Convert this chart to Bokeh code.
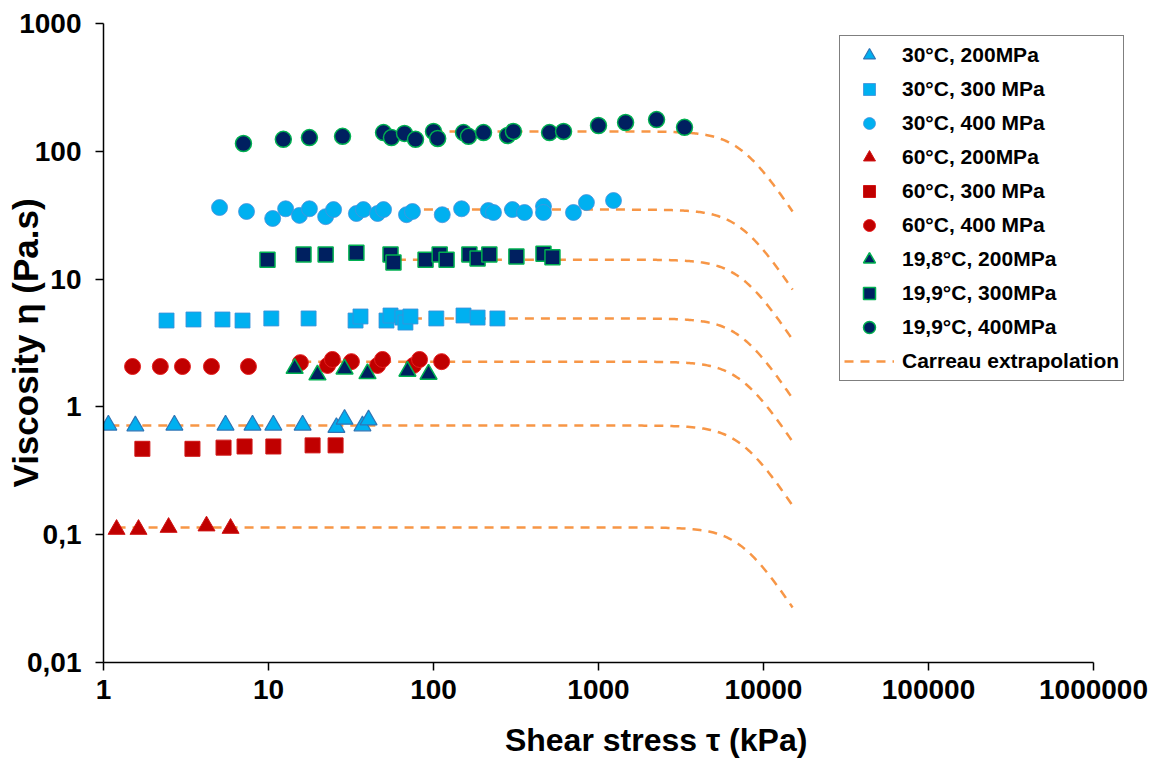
import numpy as np
from bokeh.plotting import figure
from bokeh.models import FixedTicker, Legend, LegendItem
from bokeh.embed import file_html
from bokeh.resources import INLINE

# ---------------- data ----------------
x_30_200 = [1.07, 1.56, 2.69, 5.49, 8.0, 10.7, 16.1, 25.8, 28.9, 37.1, 40.4]
y_30_200 = [0.72, 0.71, 0.72, 0.72, 0.72, 0.72, 0.72, 0.69, 0.80, 0.71, 0.79]

x_30_300 = [2.41, 3.51, 5.26, 6.96, 10.4, 17.5, 33.7, 36.1, 51.9, 54.9, 64.8,
            67.6, 72.5, 104, 152, 185, 244]
y_30_300 = [4.74, 4.83, 4.83, 4.74, 4.92, 4.92, 4.74, 5.10, 4.74, 5.19, 5.0,
            4.57, 5.10, 4.92, 5.19, 5.0, 4.92]

x_30_400 = [5.05, 7.36, 10.6, 12.7, 15.4, 17.7, 22.2, 24.8, 34.1, 37.6, 45.8,
            49.8, 68.6, 74.6, 113, 148, 215, 231, 301, 356, 464, 464, 705,
            845, 1233]
y_30_400 = [36.3, 33.8, 29.8, 35.5, 31.5, 35.5, 30.8, 35.0, 32.6, 35.0, 32.6,
            35.0, 31.9, 33.8, 31.9, 35.5, 34.4, 33.2, 35.0, 33.2, 37.1, 33.2,
            33.2, 39.7, 41.2]

x_60_200 = [1.20, 1.63, 2.48, 4.21, 5.89]
y_60_200 = [0.110, 0.110, 0.114, 0.117, 0.112]

x_60_300 = [1.72, 3.46, 5.34, 7.16, 10.7, 18.5, 25.5]
y_60_300 = [0.47, 0.47, 0.48, 0.49, 0.49, 0.50, 0.50]

x_60_400 = [1.50, 2.21, 3.01, 4.51, 7.56, 15.6, 22.8, 24.4, 31.8, 45.8, 49.1,
            75.6, 82.3, 112]
y_60_400 = [2.07, 2.07, 2.07, 2.07, 2.07, 2.22, 2.11, 2.35, 2.26, 2.11, 2.35,
            2.11, 2.35, 2.26]

x_198_200 = [14.4, 19.8, 28.9, 39.8, 69.5, 93.3]
y_198_200 = [2.0, 1.78, 1.98, 1.82, 1.90, 1.80]

x_199_300 = [9.86, 16.3, 22.2, 34.1, 54.9, 57.2, 89.5, 109, 120, 165, 185,
             218, 318, 464, 526]
y_199_300 = [14.2, 15.6, 15.6, 16.1, 15.6, 13.5, 14.2, 15.6, 14.2, 15.6, 14.5,
             15.6, 15.0, 15.8, 14.8]

x_199_400 = [7.05, 12.3, 17.7, 28.1, 49.8, 55.6, 66.7, 77.8, 100, 106, 152,
             163, 201, 281, 305, 505, 614, 1000, 1459, 2248, 3321]
y_199_400 = [115, 124, 128, 131, 140, 128, 138, 124, 143, 126, 140, 131, 140,
             133, 143, 140, 143, 159, 168, 177, 154]

# Carreau extrapolation curves: zero-shear viscosity and start stress of each
carreau_eta0 = [143, 35.0, 14.2, 4.92, 2.26, 0.715, 0.114]
carreau_start = [100, 70, 60, 60, 16, 1.1, 1.2]
carreau_end = 15000.0
carreau_tau_c = 7400.0     # critical stress (kPa)
carreau_a = 4.0
carreau_exp = 0.5

legend_labels = ["30°C, 200MPa", "30°C, 300 MPa", "30°C, 400 MPa",
                 "60°C, 200MPa", "60°C, 300 MPa", "60°C, 400 MPa",
                 "19,8°C, 200MPa", "19,9°C, 300MPa", "19,9°C, 400MPa",
                 "Carreau extrapolation"]

x_ticks = [1, 10, 100, 1000, 10000, 100000, 1000000]
x_tick_labels = ["1", "10", "100", "1000", "10000", "100000", "1000000"]
y_ticks = [0.01, 0.1, 1, 10, 100, 1000]
y_tick_labels = ["0,01", "0,1", "1", "10", "100", "1000"]
x_title = "Shear stress τ (kPa)"
y_title = "Viscosity η (Pa.s)"

FONT = "Liberation Sans"
LIGHT = "#00B0F0"
RED = "#C00000"
NAVY = "#002060"
GREEN = "#00B050"
ORANGE = "#F79646"

# ---------------- layout ----------------
W, H = 1156, 760
LEFT, TOP, BOTTOM, RIGHT = 103, 23, 98, 10
PX_PER_DECADE = 165.0           # 6 decades over the visible x axis
frame_w = W - LEFT - RIGHT
x_end = 10 ** (frame_w / PX_PER_DECADE)   # frame continues right of 1e6 (room for legend)

p = figure(width=W, height=H, x_axis_type="log", y_axis_type="log",
           x_range=(1, x_end), y_range=(0.01, 1000),
           output_backend="svg", toolbar_location=None,
           min_border_left=LEFT, min_border_right=RIGHT,
           min_border_top=TOP, min_border_bottom=BOTTOM)
p.xgrid.visible = False
p.ygrid.visible = False
p.outline_line_color = None
p.background_fill_color = "white"
p.border_fill_color = "white"

for ax in (p.xaxis[0], p.yaxis[0]):
    ax.axis_line_color = "black"
    ax.axis_line_width = 1.5
    ax.major_tick_line_color = "black"
    ax.major_tick_line_width = 1.5
    ax.major_tick_out = 8
    ax.major_tick_in = 0
    ax.minor_tick_line_color = None
    ax.major_label_text_font = FONT
    ax.major_label_text_font_style = "bold"
    ax.major_label_text_font_size = "28px"
    ax.major_label_text_color = "black"
    ax.axis_label_text_font = FONT
    ax.axis_label_text_font_style = "bold"
    ax.axis_label_text_color = "black"

p.xaxis.bounds = (1, 1e6)
p.xaxis.ticker = FixedTicker(ticks=x_ticks)
p.xaxis.major_label_overrides = {float(t): l for t, l in zip(x_ticks, x_tick_labels)}
p.xaxis.major_label_standoff = 9
# title sits right of the frame centre in the reference: shift with no-break spaces
p.xaxis.axis_label = "\u00a0" * 7 + x_title
p.xaxis.axis_label_text_font_size = "32px"
p.xaxis.axis_label_standoff = 20

p.yaxis.ticker = FixedTicker(ticks=y_ticks)
p.yaxis.major_label_overrides = {float(t): l for t, l in zip(y_ticks, y_tick_labels)}
p.yaxis.major_label_standoff = 14
p.yaxis.axis_label = y_title
p.yaxis.axis_label_text_font_size = "35px"
p.yaxis.axis_label_standoff = -29

# Carreau lines
xs, ys = [], []
for eta0, t0 in zip(carreau_eta0, carreau_start):
    tau = np.logspace(np.log10(t0), np.log10(carreau_end), 300)
    eta = eta0 / (1.0 + (tau / carreau_tau_c) ** carreau_a) ** carreau_exp
    xs.append(list(tau))
    ys.append(list(eta))
r_carreau = p.multi_line(xs, ys, line_color=ORANGE, line_width=2.5,
                         line_dash="9 7")

series = [
    (x_30_200, y_30_200, "triangle", 17, LIGHT, "#2E75B6", 1.2),
    (x_30_300, y_30_300, "square", 15, LIGHT, "#3F8FD8", 0.8),
    (x_30_400, y_30_400, "circle", 16, LIGHT, "#4A92DC", 0.8),
    (x_60_200, y_60_200, "triangle", 17, RED, "#D01515", 1.0),
    (x_60_300, y_60_300, "square", 15, RED, "#D01515", 1.0),
    (x_60_400, y_60_400, "circle", 16, RED, "#E52020", 1.0),
    (x_198_200, y_198_200, "triangle", 17, NAVY, GREEN, 1.5),
    (x_199_300, y_199_300, "square", 15, NAVY, GREEN, 1.5),
    (x_199_400, y_199_400, "circle", 16, NAVY, GREEN, 1.5),
]
renderers = []
for xv, yv, mk, sz, fc, lc, lw in series:
    r = p.scatter(xv, yv, marker=mk, size=sz, fill_color=fc, line_color=lc,
                  line_width=lw)
    renderers.append(r)

items = [LegendItem(label=lab, renderers=[r])
         for lab, r in zip(legend_labels[:9], renderers)]
items.append(LegendItem(label=legend_labels[9], renderers=[r_carreau]))
legend = Legend(items=items, location=(736, 281), margin=0,
                padding=4, spacing=4, glyph_width=50, glyph_height=30,
                label_standoff=8, label_height=30,
                label_text_font=FONT, label_text_font_style="bold",
                label_text_font_size="21px", label_text_color="black",
                label_text_baseline="middle",
                border_line_color="black", border_line_width=1,
                background_fill_color="white", background_fill_alpha=1.0)
p.add_layout(legend, "center")

open("out.html", "w").write(file_html(p, INLINE))
